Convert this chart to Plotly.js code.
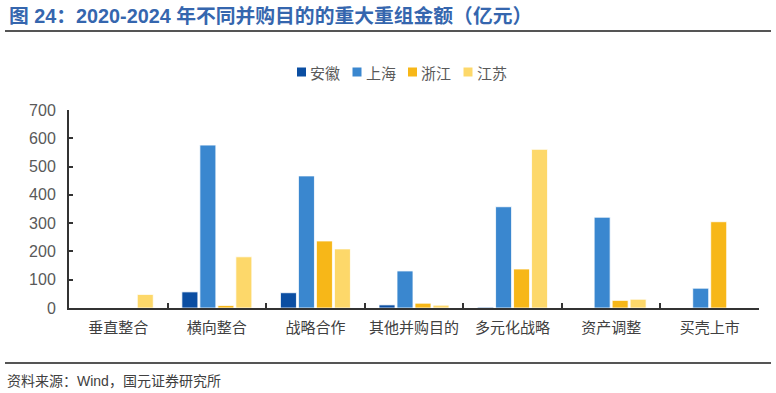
<!DOCTYPE html>
<html><head><meta charset="utf-8">
<script src="https://cdn.plot.ly/plotly-3.0.1.min.js"></script>
<style>body{margin:0;background:#fff}#c{width:776px;height:393px}</style>
</head><body><div id="c"></div>
<script>
const categories = ["垂直整合","横向整合","战略合作","其他并购目的","多元化战略","资产调整","买壳上市"];
const anhui    = [0, 57, 54, 11, 3, 0, 0];
const shanghai = [0, 576, 467, 131, 358, 321, 70];
const zhejiang = [0, 9, 237, 17, 138, 27, 305];
const jiangsu  = [48, 181, 209, 10, 561, 31, 0];
const seriesNames = ["安徽","上海","浙江","江苏"];
const colors = ["#0b4ea2","#3a87cf","#f7b718","#fdd86a"];
const yTicks = [0,100,200,300,400,500,600,700];

const cjk = '"Noto Sans CJK SC", sans-serif';
const vals = [anhui, shanghai, zhejiang, jiangsu];
const data = vals.map((v,i)=>({
  type:'bar', x:categories, y:v, name:seriesNames[i],
  marker:{color:colors[i], line:{color:'rgba(255,255,255,0.8)', width:1}},
  hoverinfo:'skip'
}));
// plot area in pixels: l=69, r=759, top=110, bottom=308
const px = x => (x-69)/690;
const py = y => (308-y)/198;
const shapes = [
  {type:'line', xref:'paper', yref:'paper', x0:px(5), x1:px(771), y0:py(31), y1:py(31), line:{color:'#555', width:2}},
  {type:'line', xref:'paper', yref:'paper', x0:px(5), x1:px(771), y0:py(363), y1:py(363), line:{color:'#555', width:2}}
];
const annotations = [
  {xref:'paper', yref:'paper', x:px(7), y:py(16), xanchor:'left', yanchor:'middle', showarrow:false,
   text:'<b>图 24：2020-2024 年不同并购目的的重大重组金额（亿元）</b>',
   font:{family:'"Liberation Sans", "Noto Sans CJK SC", sans-serif', size:19.8, color:'#3566ae'}},
  {xref:'paper', yref:'paper', x:px(5), y:py(381), xanchor:'left', yanchor:'middle', showarrow:false,
   text:'资料来源：Wind，国元证券研究所',
   font:{family:'"Liberation Sans", "Noto Sans CJK SC", sans-serif', size:14, color:'#404040'}}
];
seriesNames.forEach((n,i)=>{
  const sx = 297 + i*55.5;
  shapes.push({type:'rect', xref:'paper', yref:'paper', x0:px(sx), x1:px(sx+9), y0:py(67.5), y1:py(76.5),
    fillcolor:colors[i], line:{width:0}});
  annotations.push({xref:'paper', yref:'paper', x:px(sx+11), y:py(72), xanchor:'left', yanchor:'middle',
    showarrow:false, text:n, font:{family:cjk, size:15, color:'#595959'}});
});
const layout = {
  width:776, height:393,
  margin:{l:69, r:17, t:110, b:85},
  paper_bgcolor:'#fff', plot_bgcolor:'#fff',
  barmode:'group', bargap:0.27, bargroupgap:0.11,
  showlegend:false,
  xaxis:{type:'category', showline:true, linecolor:'#333', linewidth:2,
    ticks:'inside', tickson:'boundaries', ticklen:5, tickcolor:'#333', tickwidth:2,
    ticklabelstandoff:5, tickangle:0,
    tickfont:{family:cjk, size:15, color:'#404040'}, showgrid:false, zeroline:false},
  yaxis:{range:[0,700], tickvals:yTicks, showline:true, linecolor:'#333', linewidth:2,
    ticks:'inside', ticklen:4, tickcolor:'#333', tickwidth:2, ticklabelstandoff:8,
    tickfont:{family:'"Liberation Sans", Arial, sans-serif', size:16, color:'#595959'},
    showgrid:false, zeroline:false},
  annotations, shapes
};
Plotly.newPlot('c', data, layout, {displayModeBar:false, staticPlot:true});
</script></body></html>
